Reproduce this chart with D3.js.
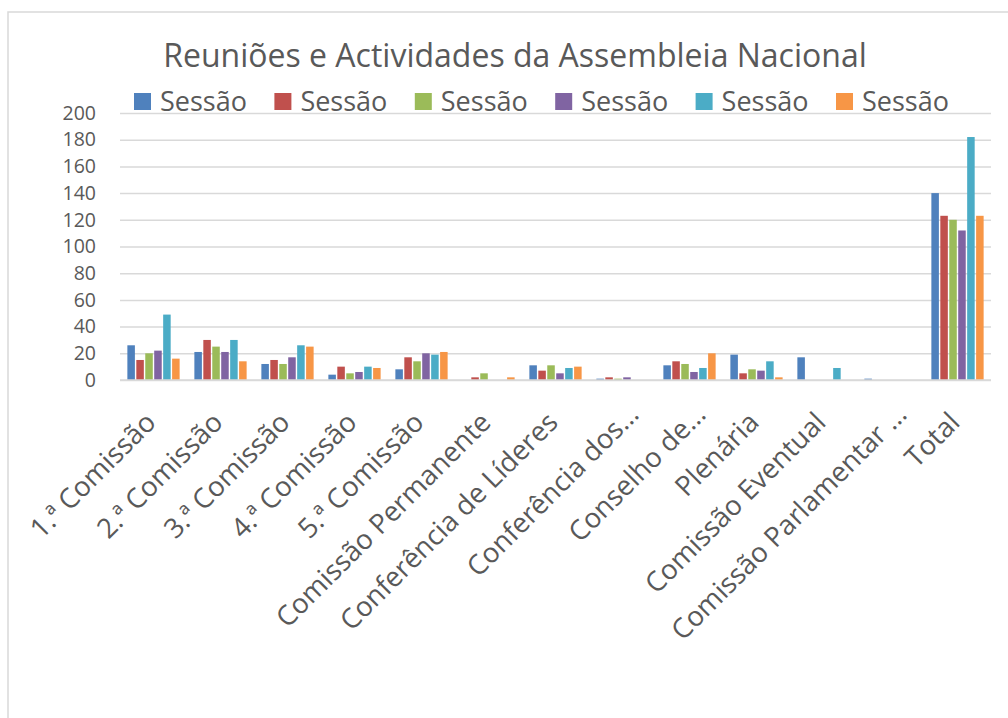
<!DOCTYPE html>
<html>
<head>
<meta charset="utf-8">
<script src="https://cdn.jsdelivr.net/npm/d3@7"></script>
<style>
  body { margin: 0; background: #fff; }
  text { font-family: "Open Sans", sans-serif; fill: #595959; }
</style>
</head>
<body>
<div id="chart_id"></div>
<script>
var categories = ["1.ª Comissão", "2.ª Comissão", "3.ª Comissão", "4.ª Comissão", "5.ª Comissão",
  "Comissão Permanente", "Conferência de Líderes", "Conferência dos…", "Conselho de…",
  "Plenária", "Comissão Eventual", "Comissão Parlamentar …", "Total"]
var series_names = ["Sessão", "Sessão", "Sessão", "Sessão", "Sessão", "Sessão"]
var series_colors = ["#4F81BD", "#C0504D", "#9BBB59", "#8064A2", "#4BACC6", "#F79646"]

// one array per series, in category order
var s1 = [26, 21, 12, 4, 8, 0, 11, 1, 11, 19, 17, 1, 140]
var s2 = [15, 30, 15, 10, 17, 2, 7, 2, 14, 5, 0, 0, 123]
var s3 = [20, 25, 12, 5, 14, 5, 11, 1, 12, 8, 0, 0, 120]
var s4 = [22, 21, 17, 6, 20, 0, 5, 2, 6, 7, 0, 0, 112]
var s5 = [49, 30, 26, 10, 19, 0, 9, 0, 9, 14, 9, 0, 182]
var s6 = [16, 14, 25, 9, 21, 2, 10, 0, 20, 2, 0, 0, 123]
var series = [s1, s2, s3, s4, s5, s6]

var y_ticks = [0, 20, 40, 60, 80, 100, 120, 140, 160, 180, 200]

var svg = d3.select("#chart_id").append("svg").attr("width", 1008).attr("height", 718)

// chart frame
svg.append("rect")
    .attr("x", 8).attr("y", 12).attr("width", 1030).attr("height", 740)
    .style("fill", "none").style("stroke", "#d9d9d9").style("stroke-width", 1.5)

var plot = {left: 120, right: 991, top: 113, bottom: 380}

var x0 = d3.scaleBand()
    .domain(d3.range(categories.length))
    .range([plot.left, plot.right])
    .paddingInner(0.22)
    .paddingOuter(0.11)

var x1 = d3.scaleBand()
    .domain(d3.range(series.length))
    .range([0, x0.bandwidth()])
    .paddingInner(0.16)

var y = d3.scaleLinear().domain([0, 200]).range([plot.bottom, plot.top])

// gridlines + tick labels
var yAxis = svg.append("g")
    .attr("transform", "translate(" + plot.left + ",0)")
    .call(d3.axisLeft(y).tickValues(y_ticks).tickSize(-(plot.right - plot.left)).tickPadding(24))
yAxis.select(".domain").remove()
yAxis.selectAll(".tick line").style("stroke", "#d9d9d9").style("stroke-width", 1.5)
yAxis.selectAll(".tick text")
    .style("font-family", "'Open Sans', sans-serif")
    .style("font-size", "19.5px")
    .style("fill", "#595959")

// bars
var groups = svg.append("g").selectAll("g")
    .data(categories)
    .enter()
    .append("g")
    .attr("transform", function(d, i) { return "translate(" + x0(i) + ",0)" })

groups.selectAll("rect")
    .data(function(d, i) { return series.map(function(s, j) { return {s: j, v: s[i]} }) })
    .enter()
    .append("rect")
    .attr("x", function(d) { return x1(d.s) })
    .attr("width", x1.bandwidth())
    .attr("y", function(d) { return y(d.v) })
    .attr("height", function(d) { return y(0) - y(d.v) })
    .style("fill", function(d) { return series_colors[d.s] })

// category axis line
svg.append("line")
    .attr("x1", plot.left).attr("x2", plot.right)
    .attr("y1", y(0)).attr("y2", y(0))
    .style("stroke", "#d9d9d9").style("stroke-width", 1.5)

// rotated category labels; truncated ones sit a little further along
svg.append("g").selectAll("text")
    .data(categories)
    .enter()
    .append("text")
    .attr("transform", function(d, i) {
        var cx = x0(i) + x0.bandwidth() / 2 + 4
        var cy = plot.bottom + 44
        if (d.slice(-1) == "…") { cx += 14; cy -= 8 }
        return "translate(" + cx + "," + cy + ") rotate(-45)"
    })
    .attr("text-anchor", "end")
    .style("font-size", "27.5px")
    .text(function(d) { return d })

// title
svg.append("text")
    .attr("x", 515).attr("y", 67)
    .attr("text-anchor", "middle")
    .style("font-size", "32px")
    .text("Reuniões e Actividades da Assembleia Nacional")

// legend
var legend = svg.append("g").selectAll("g")
    .data(series_names)
    .enter()
    .append("g")
    .attr("transform", function(d, i) { return "translate(" + (134 + i * 140.4) + ",93)" })

legend.append("rect")
    .attr("width", 17).attr("height", 17)
    .style("fill", function(d, i) { return series_colors[i] })

legend.append("text")
    .attr("x", 26).attr("y", 18)
    .style("font-size", "27px")
    .text(function(d) { return d })
</script>
</body>
</html>
